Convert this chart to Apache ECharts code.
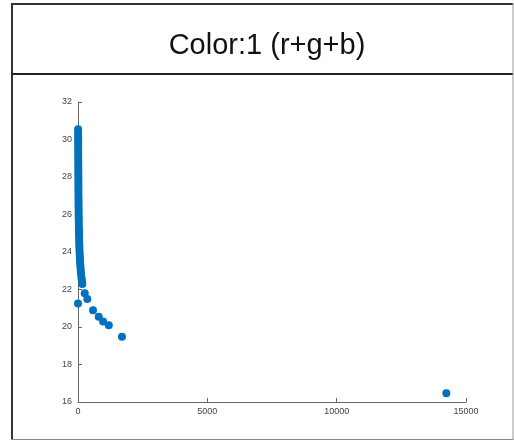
<!DOCTYPE html>
<html>
<head>
<meta charset="utf-8">
<script src="https://cdn.jsdelivr.net/npm/echarts@6/dist/echarts.min.js"></script>
<style>
  html, body { margin: 0; padding: 0; background: #fff; }
  #chart { width: 514px; height: 441px; }
</style>
</head>
<body>
<div id="chart"></div>
<script>
// 数据：x 值与 y 值
const xValues = [
  5, 5, 6, 6, 7, 7, 8, 8, 9, 9, 10, 10, 11, 11, 12, 12, 13, 14, 14, 15,
  16, 16, 17, 18, 19, 20, 21, 22, 23, 24, 25, 27, 28, 30, 32, 34, 36, 38, 41, 44,
  47, 50, 54, 58, 63, 68, 74, 80, 87, 95, 104, 114, 125, 138, 152, 168,
  0, 260, 360, 580, 800, 970, 1190, 1700, 14240
];
const yValues = [
  30.55, 30.4, 30.25, 30.1, 29.95, 29.8, 29.65, 29.5, 29.35, 29.2, 29.05, 28.9, 28.75, 28.6, 28.45, 28.3, 28.15, 28.0, 27.85, 27.7,
  27.55, 27.4, 27.25, 27.1, 26.95, 26.8, 26.65, 26.5, 26.35, 26.2, 26.05, 25.9, 25.75, 25.6, 25.45, 25.3, 25.15, 25.0, 24.85, 24.7,
  24.55, 24.4, 24.25, 24.1, 23.95, 23.8, 23.65, 23.5, 23.35, 23.2, 23.05, 22.9, 22.75, 22.6, 22.45, 22.3,
  21.25, 21.8, 21.5, 20.9, 20.55, 20.3, 20.1, 19.48, 16.47
];
const titleText = 'Color:1 (r+g+b)';

const points = xValues.map((x, i) => [x, yValues[i]]);

const myChart = echarts.init(document.getElementById('chart'));
const axisColor = '#666';
const option = {
  animation: false,
  title: {
    text: titleText,
    left: 262,
    top: 26,
    textAlign: 'center',
    textStyle: { fontFamily: 'Liberation Sans', fontSize: 29, fontWeight: 'normal', color: '#111' }
  },
  grid: { left: 78, right: 48, top: 102, bottom: 39 },
  xAxis: {
    type: 'value', min: 0, max: 15000, interval: 5000,
    axisLine: { lineStyle: { color: axisColor, width: 1 } },
    axisTick: { inside: true, length: 4, lineStyle: { color: axisColor } },
    axisLabel: { fontFamily: 'Liberation Sans', fontSize: 9, color: '#444', margin: 5, formatter: v => String(v) },
    splitLine: { show: false }
  },
  yAxis: {
    type: 'value', min: 16, max: 32, interval: 2,
    axisLine: { show: true, lineStyle: { color: axisColor, width: 1 } },
    axisTick: { show: true, inside: true, length: 4, lineStyle: { color: axisColor } },
    axisLabel: { fontFamily: 'Liberation Sans', fontSize: 9, color: '#444', margin: 6 },
    splitLine: { show: false }
  },
  series: [{
    type: 'scatter',
    data: points,
    symbolSize: 8,
    itemStyle: { color: '#0072BD', opacity: 1 }
  }],
  graphic: [
    { type: 'line', shape: { x1: 12, y1: 3, x2: 12, y2: 440 }, style: { stroke: '#333', lineWidth: 2 } },
    { type: 'line', shape: { x1: 11, y1: 4, x2: 513, y2: 4 }, style: { stroke: '#333', lineWidth: 2 } },
    { type: 'line', shape: { x1: 11, y1: 74, x2: 513, y2: 74 }, style: { stroke: '#222', lineWidth: 2 } },
    { type: 'line', shape: { x1: 513, y1: 3, x2: 513, y2: 440 }, style: { stroke: '#999', lineWidth: 1 } },
    { type: 'line', shape: { x1: 11, y1: 439.5, x2: 513, y2: 439.5 }, style: { stroke: '#888', lineWidth: 1 } }
  ]
};
myChart.setOption(option);
</script>
</body>
</html>
